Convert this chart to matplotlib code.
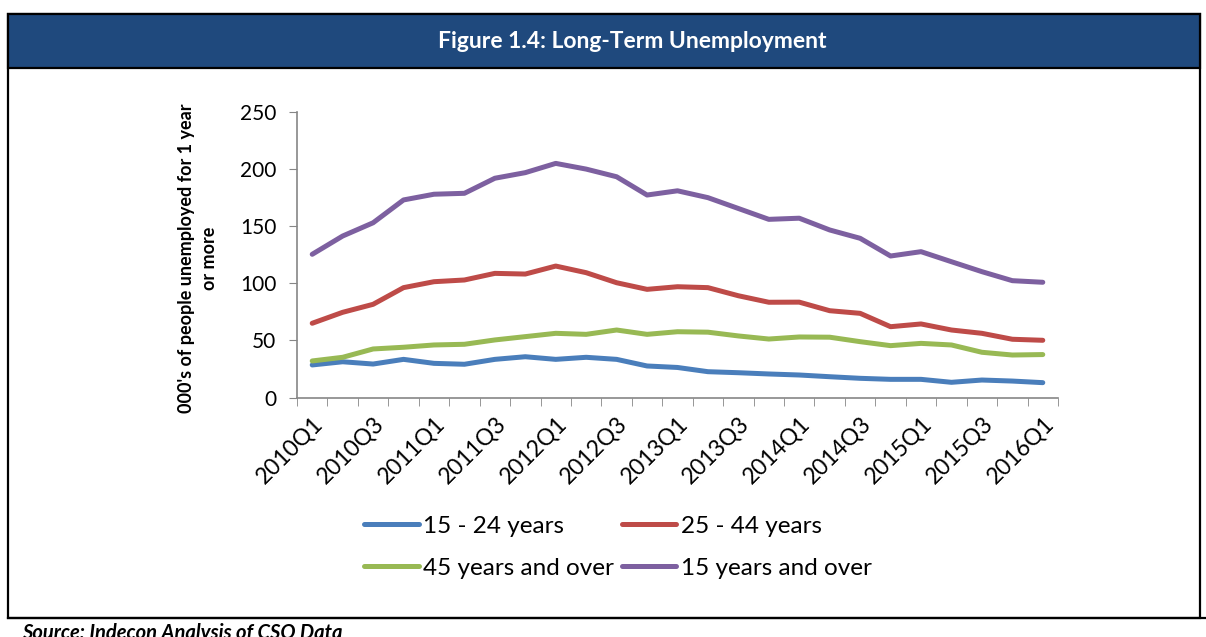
import matplotlib.pyplot as plt
from matplotlib.patches import Rectangle
from matplotlib.lines import Line2D

# quarters 2010Q1 .. 2016Q1
quarters = [f"{y}Q{q}" for y in range(2010, 2017) for q in range(1, 5)][:25]

age_15_24 = [28.5, 31.3, 29.3, 33.4, 29.9, 29.1, 33.4, 35.7, 33.4, 35.2, 33.4, 27.6,
             26.3, 22.6, 21.7, 20.6, 19.7, 18.2, 16.8, 15.9, 15.9, 13.3, 15.3, 14.4, 13.0]
age_25_44 = [65.0, 74.6, 81.6, 96.2, 101.4, 102.9, 108.7, 108.1, 115.1, 109.3, 100.5, 94.7,
             97.0, 96.2, 89.1, 83.4, 83.5, 76.0, 73.7, 62.0, 64.4, 59.1, 56.2, 51.0, 50.1]
age_45_plus = [32.0, 35.2, 42.5, 44.0, 46.0, 46.6, 50.4, 53.3, 56.2, 55.3, 59.1, 55.3,
               57.6, 57.2, 53.9, 51.2, 53.0, 52.8, 48.9, 45.4, 47.4, 46.0, 39.6, 37.2, 37.6]
age_15_plus = [125.4, 141.4, 153.0, 173.0, 178.0, 178.8, 192.0, 196.9, 205.0, 200.0, 193.3, 177.3,
               181.0, 175.0, 165.5, 156.0, 157.0, 146.7, 139.4, 123.9, 127.7, 118.9, 110.2, 102.3, 100.9]

series = [
    ("15 - 24 years", age_15_24, "#4A7EBB"),
    ("25 - 44 years", age_25_44, "#BE4B48"),
    ("45 years and over", age_45_plus, "#98B954"),
    ("15 years and over", age_15_plus, "#7D60A0"),
]

W, H = 1206, 637
plt.rcParams["font.family"] = ["Lato", "DejaVu Sans"]
fig = plt.figure(figsize=(W / 100, H / 100), dpi=100)

# frame and title bar
fig.patches.append(Rectangle((8 / W, 1 - 618 / H), 1192 / W, 604 / H, transform=fig.transFigure,
                             facecolor="none", edgecolor="black", linewidth=1.6))
fig.patches.append(Rectangle((8 / W, 1 - 68 / H), 1192 / W, 54 / H, transform=fig.transFigure,
                             facecolor="#1F497D", edgecolor="black", linewidth=1.6))
fig.lines.append(Line2D([8 / W, 1], [1 - 618 / H, 1 - 618 / H], transform=fig.transFigure,
                        color="black", linewidth=1.6))
fig.text(632 / W, 1 - 42 / H, "Figure 1.4: Long-Term Unemployment", color="white",
         fontsize=16.5, fontweight="bold", ha="center", va="center")
fig.text(22 / W, 1 - 623 / H, "Source: Indecon Analysis of CSO Data", fontsize=14.5,
         fontweight="bold", style="italic", ha="left", va="top")

ax = fig.add_axes([297 / W, 1 - 397.5 / H, 761 / W, 285.5 / H])
x = list(range(len(quarters)))
handles = []
for label, vals, color in series:
    h, = ax.plot(x, vals, color=color, linewidth=3.6, label=label, solid_capstyle="round")
    handles.append(h)

ax.set_xlim(-0.5, len(quarters) - 0.5)
ax.set_ylim(0, 250)
ax.set_yticks(range(0, 251, 50))
ax.set_xticks(x[::2])
ax.set_xticklabels(quarters[::2], rotation=45, ha="right", va="top", rotation_mode="anchor")
ax.set_xticks([i - 0.5 for i in range(len(quarters) + 1)], minor=True)
ax.tick_params(axis="x", which="major", length=0, labelsize=16.5, pad=11)
ax.tick_params(axis="x", which="minor", length=6, color="#868686", direction="out")
ax.tick_params(axis="y", length=6, color="#868686", labelsize=15, direction="out", pad=9)
for side in ("top", "right"):
    ax.spines[side].set_visible(False)
for side in ("left", "bottom"):
    ax.spines[side].set_color("#868686")
    ax.spines[side].set_linewidth(1.2)

fig.text(198 / W, 1 - 258 / H, "000's of people unemployed for 1 year\nor more",
         rotation=90, fontsize=13, fontweight="bold", ha="center", va="center",
         linespacing=1.4)

# Excel fills the legend row by row
order = [0, 2, 1, 3]
fig.legend([handles[i] for i in order], [series[i][0] for i in order],
           loc="upper left", bbox_to_anchor=(342 / W, 1 - 494 / H), ncol=2, frameon=False,
           fontsize=17.5, handlelength=2.25, columnspacing=0.3, labelspacing=0.85,
           handletextpad=0.2)

fig.savefig("out.png", dpi=100)
